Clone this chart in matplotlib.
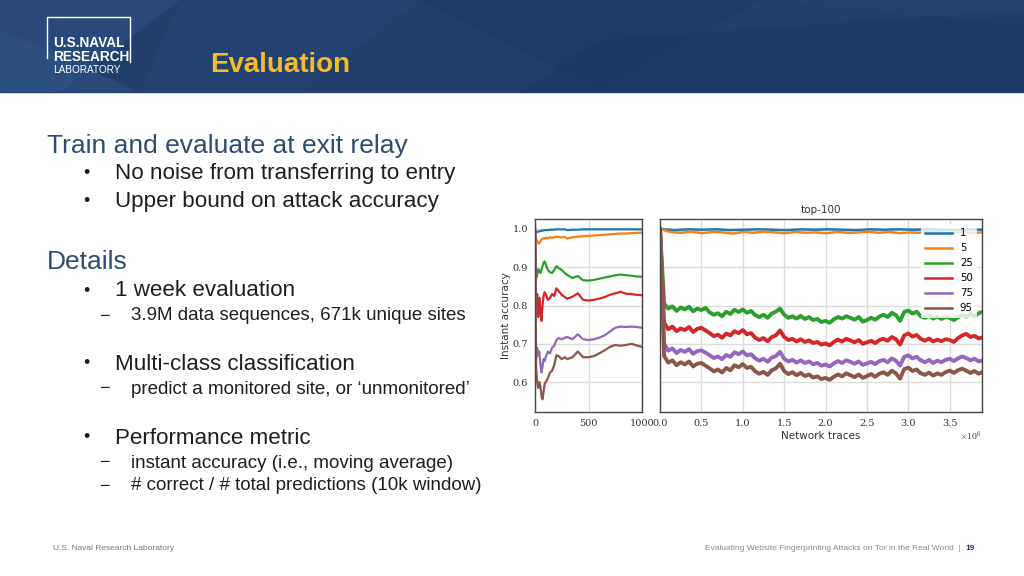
import numpy as np
import matplotlib
matplotlib.use("Agg")
import matplotlib.pyplot as plt
from matplotlib.patches import Polygon, Rectangle
from matplotlib.ticker import FuncFormatter

# ---------------------------------------------------------
# DATA
# ---------------------------------------------------------
labels = ["1", "5", "25", "50", "75", "95"]
colors = ["#1f77b4", "#ff7f0e", "#2ca02c", "#d62728", "#9467bd", "#8c564b"]

# left panel: first 1000 traces
early_x = [0, 10, 20, 30, 40, 50, 60, 70, 80, 90, 100, 120, 140, 160, 180, 200, 220,
           250, 280, 300, 350, 400, 450, 500, 550, 600, 650, 700, 750, 800, 850, 900, 950, 1000]
early_1 = [1.0, 0.990, 0.992, 0.993, 0.994, 0.995, 0.995, 0.996, 0.996, 0.997, 0.997, 0.997,
           0.998, 0.998, 0.998, 0.999, 0.999, 0.999, 0.999, 0.997, 0.998, 0.998, 0.999, 0.999,
           0.999, 0.999, 0.999, 0.999, 0.999, 0.999, 0.999, 0.999, 0.999, 0.999]
early_5 = [1.0, 0.975, 0.968, 0.963, 0.962, 0.968, 0.972, 0.974, 0.976, 0.975, 0.977, 0.976,
           0.978, 0.977, 0.978, 0.980, 0.979, 0.978, 0.979, 0.975, 0.978, 0.980, 0.981, 0.982,
           0.983, 0.984, 0.985, 0.986, 0.987, 0.988, 0.988, 0.989, 0.990, 0.990]
early_25 = [1.0, 0.870, 0.880, 0.895, 0.890, 0.885, 0.893, 0.903, 0.912, 0.915, 0.908, 0.893,
            0.887, 0.885, 0.893, 0.903, 0.898, 0.893, 0.884, 0.880, 0.872, 0.877, 0.866, 0.865,
            0.867, 0.870, 0.873, 0.876, 0.879, 0.881, 0.879, 0.878, 0.876, 0.875]
early_50 = [1.0, 0.780, 0.830, 0.770, 0.820, 0.790, 0.760, 0.800, 0.825, 0.835, 0.830, 0.815,
            0.820, 0.830, 0.825, 0.845, 0.838, 0.828, 0.822, 0.818, 0.823, 0.832, 0.815, 0.813,
            0.815, 0.818, 0.822, 0.828, 0.832, 0.836, 0.831, 0.830, 0.828, 0.827]
early_75 = [1.0, 0.660, 0.690, 0.670, 0.680, 0.650, 0.625, 0.640, 0.660, 0.655, 0.665, 0.680,
            0.675, 0.690, 0.695, 0.710, 0.715, 0.712, 0.716, 0.718, 0.712, 0.725, 0.712, 0.710,
            0.712, 0.716, 0.722, 0.732, 0.742, 0.745, 0.744, 0.745, 0.744, 0.742]
early_95 = [1.0, 0.640, 0.600, 0.585, 0.600, 0.590, 0.565, 0.555, 0.575, 0.595, 0.600, 0.610,
            0.625, 0.630, 0.645, 0.670, 0.668, 0.660, 0.665, 0.660, 0.665, 0.680, 0.665, 0.665,
            0.668, 0.675, 0.683, 0.692, 0.697, 0.695, 0.697, 0.700, 0.696, 0.692]

# right panel: whole week, 0 .. 3.9M traces (evenly spaced samples)
full_end = 3.9e6
full_1 = [1.0, 0.997, 0.999, 0.998, 0.999, 0.997, 0.998, 0.999, 0.998, 0.997, 0.999, 0.998,
          0.999, 0.998, 0.997, 0.999, 0.998, 0.999, 0.998, 0.999, 0.998, 0.997, 0.999, 0.998]
full_5 = [1.0, 0.992, 0.990, 0.993, 0.989, 0.992, 0.991, 0.988, 0.992, 0.990, 0.993, 0.991,
          0.989, 0.992, 0.990, 0.991, 0.989, 0.992, 0.990, 0.991, 0.993, 0.990, 0.992, 0.989,
          0.991, 0.990, 0.992, 0.991, 0.989, 0.992, 0.990, 0.991]
full_25 = [1.0, 0.805, 0.792, 0.798, 0.786, 0.795, 0.790, 0.797, 0.785, 0.792, 0.788, 0.794,
           0.782, 0.776, 0.780, 0.772, 0.784, 0.778, 0.789, 0.783, 0.790, 0.781, 0.786, 0.775,
           0.770, 0.776, 0.768, 0.779, 0.784, 0.792, 0.776, 0.768, 0.772, 0.766, 0.773, 0.765,
           0.770, 0.762, 0.765, 0.757, 0.760, 0.755, 0.764, 0.770, 0.766, 0.772, 0.768, 0.763,
           0.770, 0.758, 0.762, 0.768, 0.763, 0.771, 0.776, 0.770, 0.781, 0.775, 0.760, 0.783,
           0.787, 0.779, 0.784, 0.772, 0.768, 0.774, 0.766, 0.771, 0.765, 0.770, 0.768, 0.762,
           0.769, 0.775, 0.771, 0.778, 0.772, 0.780, 0.784]
full_50 = [1.0, 0.755, 0.738, 0.745, 0.733, 0.740, 0.736, 0.744, 0.731, 0.739, 0.742, 0.735,
           0.728, 0.720, 0.724, 0.716, 0.727, 0.722, 0.733, 0.728, 0.736, 0.725, 0.728, 0.716,
           0.710, 0.715, 0.707, 0.718, 0.722, 0.735, 0.718, 0.710, 0.713, 0.706, 0.712, 0.705,
           0.709, 0.702, 0.705, 0.698, 0.701, 0.696, 0.705, 0.711, 0.706, 0.713, 0.709, 0.704,
           0.710, 0.700, 0.704, 0.708, 0.702, 0.710, 0.713, 0.708, 0.718, 0.712, 0.698, 0.722,
           0.727, 0.719, 0.723, 0.713, 0.708, 0.714, 0.706, 0.711, 0.707, 0.712, 0.710, 0.705,
           0.715, 0.722, 0.726, 0.718, 0.721, 0.714, 0.717]
full_75 = [1.0, 0.700, 0.682, 0.688, 0.676, 0.684, 0.679, 0.686, 0.674, 0.681, 0.683, 0.677,
           0.670, 0.663, 0.667, 0.660, 0.671, 0.666, 0.678, 0.673, 0.680, 0.670, 0.673, 0.662,
           0.656, 0.661, 0.653, 0.664, 0.668, 0.679, 0.661, 0.654, 0.658, 0.651, 0.657, 0.650,
           0.654, 0.647, 0.650, 0.643, 0.646, 0.641, 0.649, 0.655, 0.650, 0.657, 0.653, 0.648,
           0.654, 0.645, 0.649, 0.653, 0.647, 0.655, 0.658, 0.652, 0.662, 0.656, 0.643, 0.666,
           0.670, 0.662, 0.666, 0.657, 0.652, 0.658, 0.650, 0.656, 0.652, 0.658, 0.661, 0.655,
           0.662, 0.667, 0.663, 0.657, 0.661, 0.654, 0.657]
full_95 = [1.0, 0.668, 0.651, 0.657, 0.644, 0.652, 0.646, 0.654, 0.641, 0.648, 0.650, 0.643,
           0.636, 0.628, 0.633, 0.625, 0.637, 0.631, 0.644, 0.639, 0.647, 0.637, 0.640, 0.628,
           0.622, 0.627, 0.619, 0.631, 0.636, 0.648, 0.629, 0.621, 0.626, 0.618, 0.624, 0.616,
           0.620, 0.612, 0.615, 0.608, 0.611, 0.606, 0.614, 0.620, 0.615, 0.623, 0.618, 0.613,
           0.620, 0.611, 0.616, 0.621, 0.614, 0.622, 0.626, 0.619, 0.630, 0.623, 0.609, 0.634,
           0.638, 0.629, 0.633, 0.623, 0.619, 0.625, 0.617, 0.623, 0.619, 0.626, 0.630, 0.624,
           0.631, 0.635, 0.630, 0.624, 0.629, 0.622, 0.627]

early = [early_1, early_5, early_25, early_50, early_75, early_95]
full = [full_1, full_5, full_25, full_50, full_75, full_95]

# ---------------------------------------------------------
# SLIDE BACKGROUND
# ---------------------------------------------------------
fig = plt.figure(figsize=(10.24, 5.76), dpi=100)
bg = fig.add_axes([0, 0, 1, 1])
bg.set_xlim(0, 1024)
bg.set_ylim(576, 0)
bg.axis("off")

bg.add_patch(Rectangle((0, 0), 1024, 92, color="#213e6d", zorder=0))
facets = [
    ([(0, 0), (180, 0), (60, 92), (0, 92)], "#2e5386", 0.55),
    ([(0, 30), (140, 92), (0, 92)], "#365c90", 0.35),
    ([(180, 0), (420, 0), (300, 92), (140, 92)], "#27487a", 0.45),
    ([(420, 0), (760, 0), (600, 92)], "#1d3865", 0.45),
    ([(600, 40), (1024, 10), (1024, 92), (520, 92)], "#1c345f", 0.4),
    ([(760, 0), (1024, 0), (1024, 25)], "#284776", 0.3),
]
for pts, c, a in facets:
    bg.add_patch(Polygon(pts, closed=True, color=c, alpha=a, zorder=1, lw=0))

# logo
bg.plot([47, 47, 130, 130], [58, 17, 17, 62], color="white", lw=1, zorder=2)
bg.text(53, 43, "U.S.NAVAL", color="white", fontsize=9.8, fontweight="bold",
        family="Liberation Sans", va="center", zorder=3)
bg.text(53, 57, "RESEARCH", color="white", fontsize=9.8, fontweight="bold",
        family="Liberation Sans", va="center", zorder=3)
bg.text(53, 70, "LABORATORY", color="white", fontsize=7.2, family="Liberation Sans",
        va="center", zorder=3)

bg.text(210, 65, "Evaluation", color="#f2bd2a", fontsize=20, fontweight="bold",
        family="Liberation Sans", va="center")

# body text
head_c = "#2e4c72"
body_c = "#1e1e1e"
bg.text(47, 146, "Train and evaluate at exit relay", color=head_c, fontsize=19,
        family="Liberation Sans", va="center")
bg.text(47, 262, "Details", color=head_c, fontsize=19, family="Liberation Sans", va="center")

bullets = [(174, "No noise from transferring to entry"),
           (201, "Upper bound on attack accuracy"),
           (291, "1 week evaluation"),
           (364, "Multi-class classification"),
           (438, "Performance metric")]
for y, t in bullets:
    bg.text(83, y, "•", color=body_c, fontsize=13, family="Liberation Sans", va="center")
    bg.text(115, y, t, color=body_c, fontsize=16.1, family="Liberation Sans", va="center")

subs = [(316, "3.9M data sequences, 671k unique sites"),
        (389, "predict a monitored site, or \u2018unmonitored\u2019"),
        (463, "instant accuracy (i.e., moving average)"),
        (486, "# correct / # total predictions (10k window)")]
for y, t in subs:
    bg.text(99, y, "\u2212", color=body_c, fontsize=13, family="Liberation Sans", va="center")
    bg.text(131, y, t, color=body_c, fontsize=13.5, family="Liberation Sans", va="center")

# footer
bg.text(53, 549, "U.S. Naval Research Laboratory", color="#777777", fontsize=6,
        family="Liberation Sans", va="center")
bg.text(961, 549, "Evaluating Website Fingerprinting Attacks on Tor in the Real World  |",
        color="#888888", fontsize=6, family="Liberation Sans", va="center", ha="right")
bg.text(975, 549, "19", color="#1f3864", fontsize=6, fontweight="bold",
        family="Liberation Sans", va="center", ha="right")

# ---------------------------------------------------------
# CHARTS
# ---------------------------------------------------------
plt.rcParams["mathtext.fontset"] = "cm"

ax1 = fig.add_axes([535 / 1024, 1 - 412 / 576, 107 / 1024, 193 / 576])
ax2 = fig.add_axes([660 / 1024, 1 - 412 / 576, 322 / 1024, 193 / 576], sharey=ax1)

for ax in (ax1, ax2):
    ax.set_facecolor("white")
    ax.grid(True, color="#dcdcdc", lw=1)
    ax.set_axisbelow(True)
    for s in ax.spines.values():
        s.set_color("#444444")
        s.set_linewidth(1)
    ax.tick_params(length=0, labelsize=7, colors="#333333", pad=5)

for vals, c in zip(early, colors):
    ax1.plot(early_x, vals, color=c, lw=1.6)
ax1.set_xlim(0, 1000)
ax1.set_ylim(0.522, 1.026)
ax1.set_xticks([0, 500, 1000])
ax1.set_yticks([0.6, 0.7, 0.8, 0.9, 1.0])
ax1.set_yticklabels(["0.6", "0.7", "0.8", "0.9", "1.0"])
ax1.set_ylabel("Instant accuracy", fontsize=7.5, color="#333333", labelpad=1)

widths = [1.8, 1.8, 2.8, 2.8, 2.8, 2.8]
for vals, c, lab, w in zip(full, colors, labels, widths):
    ax2.plot(np.linspace(0, full_end, len(vals)), vals, color=c, lw=w, label=lab)
ax2.set_xlim(0, 3.89e6)
ax2.set_xticks([0, 0.5e6, 1e6, 1.5e6, 2e6, 2.5e6, 3e6, 3.5e6])
ax2.xaxis.set_major_formatter(FuncFormatter(lambda v, p: f"{v / 1e6:.1f}"))
ax2.text(1.0, -0.125, r"$\times10^{6}$", transform=ax2.transAxes, ha="right", va="center",
         fontsize=7, color="#333333")
ax2.tick_params(axis="y", labelleft=False)
ax2.set_xlabel("Network traces", fontsize=7.5, color="#333333", labelpad=2)
ax2.set_title("top-100", fontsize=7.5, color="#333333", pad=4)

for ax in (ax1, ax2):
    for lbl in ax.get_xticklabels() + ax.get_yticklabels():
        lbl.set_family("DejaVu Serif")

leg = ax2.legend(loc="upper right", fontsize=7.3, frameon=True, handlelength=2.6,
                 borderaxespad=0.5, labelspacing=0.5, borderpad=0.4)
leg.get_frame().set_facecolor("white")
leg.get_frame().set_alpha(0.8)
leg.get_frame().set_edgecolor("none")
for h in leg.get_lines():
    h.set_linewidth(1.8)

fig.savefig("out.png", dpi=100)
